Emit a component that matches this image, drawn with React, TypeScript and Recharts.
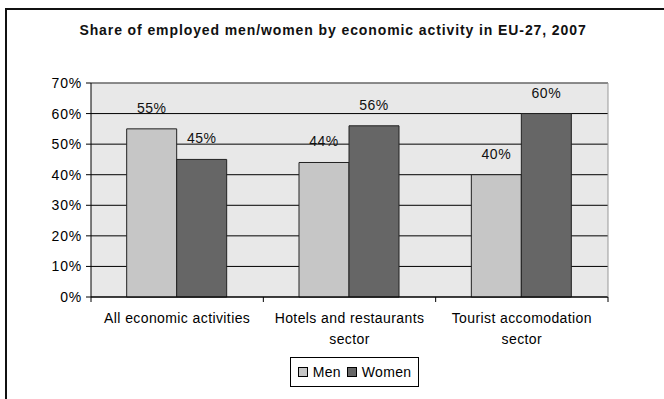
import React from "react"
import {
  Bar,
  BarChart,
  CartesianGrid,
  LabelList,
  Legend,
  ReferenceLine,
  Text,
  XAxis,
  YAxis,
} from "recharts"

const categories = [
  "All economic activities",
  "Hotels and restaurants sector",
  "Tourist accomodation sector",
]
const men = [55, 44, 40]
const women = [45, 56, 60]
const yTicks = [0, 10, 20, 30, 40, 50, 60, 70]

const data = categories.map((name, i) => ({
  name,
  Men: men[i],
  Women: women[i],
}))

const FONT = "Arial, 'Liberation Sans', Helvetica, sans-serif"
const MEN_COLOR = "#c6c6c6"
const WOMEN_COLOR = "#666666"

const CategoryTick = (props: any) => {
  const { x, y, payload, index, visibleTicksCount } = props
  const half = payload && payload.offset ? payload.offset : 0
  return (
    <g>
      <line x1={x - half} y1={y} x2={x - half} y2={y + 5} stroke="#000" />
      {index === visibleTicksCount - 1 && (
        <line x1={x + half} y1={y} x2={x + half} y2={y + 5} stroke="#000" />
      )}
      <Text
        x={x}
        y={y + 16}
        width={165}
        textAnchor="middle"
        verticalAnchor="start"
        lineHeight="1.5em"
        fontSize={14}
        fontFamily={FONT}
        fill="#000"
        style={{ letterSpacing: 0.4 }}
      >
        {payload.value}
      </Text>
    </g>
  )
}

const LegendBox = (props: any) => {
  const items = props.payload || []
  return (
    <div
      style={{
        border: "1px solid #000",
        height: 28,
        display: "flex",
        alignItems: "center",
        justifyContent: "center",
        fontFamily: FONT,
        fontSize: 14,
        background: "#fff",
        boxSizing: "content-box",
      }}
    >
      {items.map((it: any) => (
        <span
          key={it.value}
          style={{ display: "flex", alignItems: "center", margin: "0 3px" }}
        >
          <span
            style={{
              width: 8,
              height: 8,
              background: it.color,
              border: "1px solid #000",
              marginRight: 5,
              display: "inline-block",
            }}
          />
          <span style={{ letterSpacing: 0.3 }}>{it.value}</span>
        </span>
      ))}
    </div>
  )
}

export default function App() {
  return (
    <div
      style={{
        position: "absolute",
        left: 0,
        top: 0,
        width: 664,
        height: 399,
        overflow: "hidden",
        background: "#fff",
      }}
    >
      <div
        style={{
          position: "absolute",
          left: 5,
          top: 8,
          width: 700,
          height: 420,
          borderTop: "2px solid #111",
          borderLeft: "2px solid #111",
        }}
      />
      <div
        style={{
          position: "absolute",
          left: 0,
          top: 22,
          width: 666,
          textAlign: "center",
          fontFamily: FONT,
          fontWeight: "bold",
          fontSize: 14,
          letterSpacing: 0.9,
          color: "#111",
        }}
      >
        Share of employed men/women by economic activity in EU-27, 2007
      </div>
      <BarChart
        width={664}
        height={399}
        data={data}
        margin={{ top: 83, right: 55, left: 0, bottom: 52 }}
        barCategoryGap="20.7%"
        barGap={0}
        style={{ position: "absolute", left: 0, top: 0 }}
      >
        <CartesianGrid
          yAxisId="left"
          vertical={false}
          stroke="#000"
          fill="#e8e8e8"
          fillOpacity={1}
        />
        <XAxis
          dataKey="name"
          axisLine={{ stroke: "#000" }}
          tickLine={false}
          tickSize={0}
          tickMargin={0}
          height={50}
          interval={0}
          tick={<CategoryTick />}
        />
        <YAxis
          yAxisId="left"
          width={91}
          domain={[0, 70]}
          ticks={yTicks}
          tickFormatter={(v: number) => `${v}%`}
          axisLine={{ stroke: "#000" }}
          tickLine={{ stroke: "#000" }}
          tickSize={5}
          tickMargin={4}
          tick={{
            fill: "#000",
            fontSize: 14,
            fontFamily: FONT,
            style: { letterSpacing: 0.8 },
          }}
        />
        <YAxis
          yAxisId="right"
          orientation="right"
          width={1}
          domain={[0, 70]}
          tick={false}
          tickLine={false}
          axisLine={{ stroke: "#999" }}
        />
        <ReferenceLine yAxisId="left" y={70} stroke="#999" />
        <Legend
          verticalAlign="middle"
          align="center"
          wrapperStyle={{ top: 357, left: 290, width: 129 }}
          content={<LegendBox />}
        />
        <Bar
          yAxisId="left"
          dataKey="Men"
          fill={MEN_COLOR}
          stroke="#222"
          strokeWidth={1}
          isAnimationActive={false}
        >
          <LabelList
            dataKey="Men"
            position="top"
            offset={16}
            formatter={(v: any) => `${v}%`}
            style={{ fill: "#111", fontSize: 14, fontFamily: FONT, letterSpacing: 0.5 }}
          />
        </Bar>
        <Bar
          yAxisId="left"
          dataKey="Women"
          fill={WOMEN_COLOR}
          stroke="#222"
          strokeWidth={1}
          isAnimationActive={false}
        >
          <LabelList
            dataKey="Women"
            position="top"
            offset={16}
            formatter={(v: any) => `${v}%`}
            style={{ fill: "#111", fontSize: 14, fontFamily: FONT, letterSpacing: 0.5 }}
          />
        </Bar>
      </BarChart>
    </div>
  )
}
